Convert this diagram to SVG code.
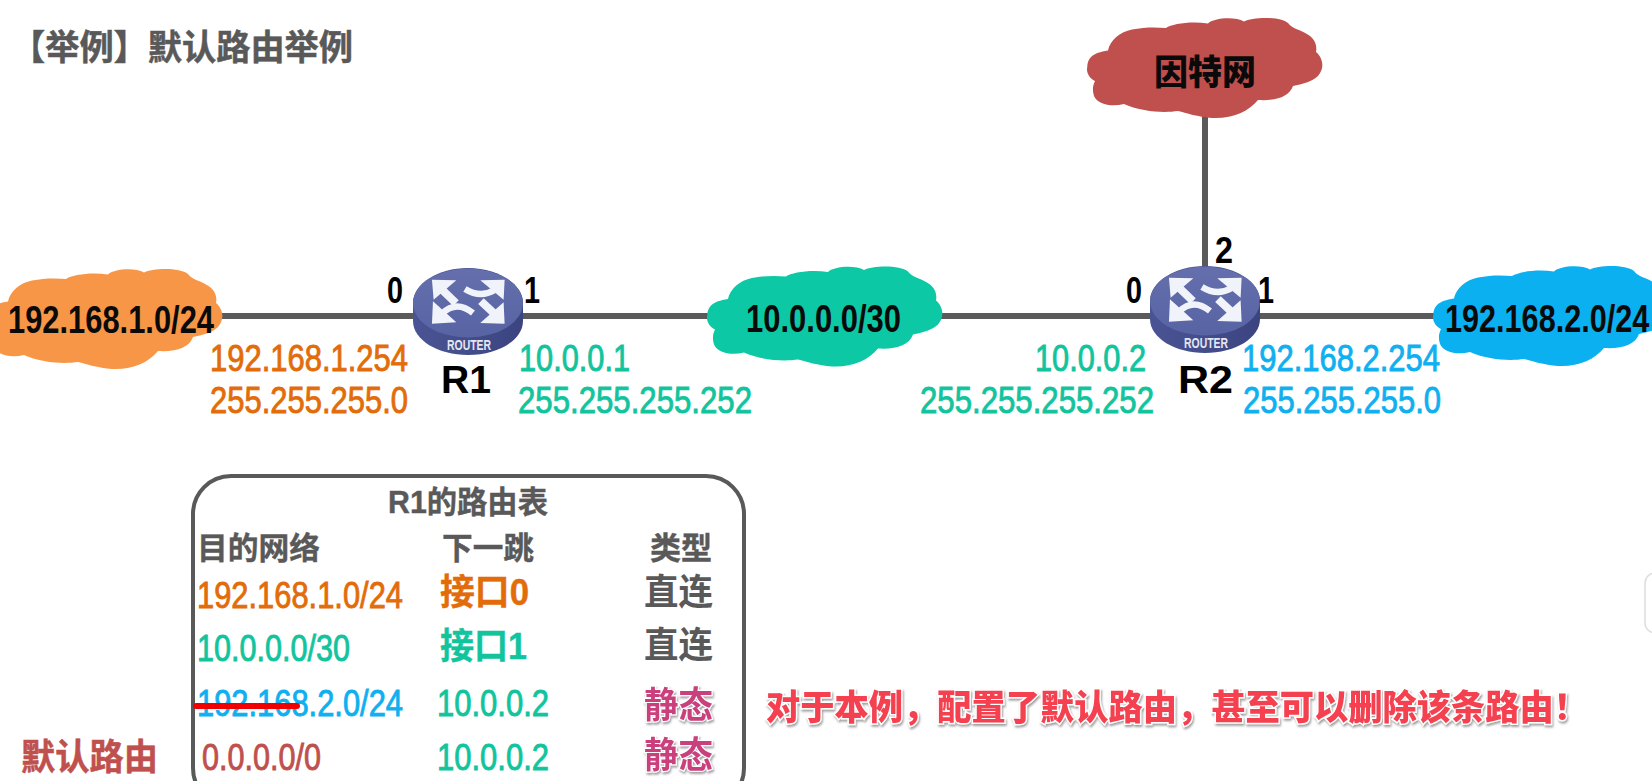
<svg xmlns="http://www.w3.org/2000/svg" xmlns:xlink="http://www.w3.org/1999/xlink" width="1652" height="781" viewBox="0 0 1652 781">
<style>
text{font-family:"Liberation Sans","Noto Sans CJK SC",sans-serif}
.net{font-size:38px;font-weight:700;fill:#0a0a0a}
.port{font-size:36px;font-weight:700;fill:#000}
.rname{font-size:39px;font-weight:700;fill:#000}
.addr{font-size:37px;stroke-width:.9px}
.org{fill:#E36C0A;stroke:#E36C0A}
.tea{fill:#12C49D;stroke:#12C49D}
.blu{fill:#0FB0F0;stroke:#0FB0F0}
.mar{fill:#C0504D;stroke:#C0504D}
.head{font-size:31px;font-weight:700;fill:#595959;stroke:#595959;stroke-width:.4px}
.iface{font-size:36px;font-weight:700;stroke-width:.4px}
.type{font-size:36px;font-weight:700;fill:#595959}
.stat{font-size:36px;font-weight:700;fill:#C93F7C;stroke:#fff;stroke-width:2.5px;paint-order:stroke;filter:url(#sh)}
.note{font-size:35px;font-weight:900;fill:#F4404F;stroke:#fff;stroke-width:3px;paint-order:stroke;filter:url(#sh)}
.link{stroke:#5A5A5A;stroke-width:6;fill:none}
.rt{font-size:14px;font-weight:700;fill:#E4E6F2}
</style>
<defs>
<filter id="sh" x="-5%" y="-20%" width="110%" height="150%"><feDropShadow dx="1" dy="2" stdDeviation="1.2" flood-color="#777" flood-opacity=".7"/></filter>
<linearGradient id="rtop" x1="0" y1="0" x2="0" y2="1"><stop offset="0" stop-color="#656FAD"/><stop offset="1" stop-color="#5763A3"/></linearGradient>
<linearGradient id="rside" x1="0" y1="0" x2="1" y2="0"><stop offset="0" stop-color="#4A5494"/><stop offset=".5" stop-color="#434D8B"/><stop offset="1" stop-color="#3B447F"/></linearGradient>
<path id="cloud" d="M7.300 56.700C8 48 12 43 28 40.500C30 30 40 22 52 19.500C64 17 76 17 86 18C92 14 110 11 128 13.500C133 8 155 6 164 11.500C172 7 200 6 208 13C212 19 222 20 230 26C236 31 237 37 236 42C243 48 245 58 238 66C232 72 222 74 213 76C209 87 196 91 178 90C168 102 152 109 132 108C118 107 106 103 98 101C84 103 62 102 44 94C32 97 18 95 14 86C12 80 13 75 15 71C9 68 6 62 7.300 56.700Z"/>
<g id="router">
<path d="M0 35C0 16 25 0 55 0S110 16 110 35V53C110 72 85 87 55 87S0 72 0 53Z" fill="url(#rside)"/>
<ellipse cx="55" cy="35" rx="55" ry="34.500" fill="url(#rtop)"/>
<g transform="translate(-22.700 -18.300) scale(.3333)">
<g fill="#F1F3FA">
<polygon points="125,90 198,92 130,150"/>
<polygon points="343,90 270,92 340,150"/>
<polygon points="125,222 128,155 198,218"/>
<polygon points="343,222 270,220 340,158"/>
</g>
<g fill="none" stroke="#F1F3FA">
<path d="M155 120L197 160" stroke-width="24"/>
<path d="M312 122Q270 146 224 118" stroke-width="19"/>
<path d="M155 192Q198 150 248 190" stroke-width="19"/>
<path d="M312 192L272 154" stroke-width="24"/>
</g>
</g>
</g>
</defs>
<rect width="1652" height="781" fill="#fff"/>
<text id="title" x="11" y="60" font-size="35" font-weight="700" fill="#595959" stroke="#595959" stroke-width=".5" textLength="342" lengthAdjust="spacingAndGlyphs">【举例】默认路由举例</text>

<g id="connectors">
<line class="link" x1="215" y1="316" x2="415" y2="316"/>
<line class="link" x1="520" y1="316" x2="712" y2="316"/>
<line class="link" x1="940" y1="316" x2="1152" y2="316"/>
<line class="link" x1="1256" y1="316" x2="1436" y2="316"/>
<line class="link" x1="1205" y1="116" x2="1205" y2="270"/>
</g>

<g id="net-lan1">
<use xlink:href="#cloud" href="#cloud" transform="translate(-20 261)" fill="#F79646"/>
<text class="net" x="8" y="333" textLength="206" lengthAdjust="spacingAndGlyphs">192.168.1.0/24</text>
</g>
<g id="net-transit">
<use xlink:href="#cloud" href="#cloud" transform="translate(700 258.500)" fill="#0CC8A4"/>
<text class="net" x="746" y="332" textLength="155" lengthAdjust="spacingAndGlyphs">10.0.0.0/30</text>
</g>
<g id="net-lan2">
<use xlink:href="#cloud" href="#cloud" transform="translate(1426 258)" fill="#0BB0F0"/>
<text class="net" transform="matrix(.806 0 0 1 1445 332)">192.168.2.0/24</text>
</g>
<g id="net-internet">
<use xlink:href="#cloud" href="#cloud" transform="translate(1080 10)" fill="#C0504D"/>
<text x="1154" y="85" font-size="35" font-weight="900" fill="#0a0a0a" textLength="102" lengthAdjust="spacingAndGlyphs">因特网</text>
</g>

<g id="R1">
<use xlink:href="#router" href="#router" transform="translate(413 268)"/>
<text class="rt" x="447" y="350" textLength="44" lengthAdjust="spacingAndGlyphs">ROUTER</text>
<text class="port" x="387" y="303" textLength="16" lengthAdjust="spacingAndGlyphs">0</text>
<text class="port" x="524" y="303" textLength="16" lengthAdjust="spacingAndGlyphs">1</text>
<text class="rname" x="441" y="393" textLength="50" lengthAdjust="spacingAndGlyphs">R1</text>
<text class="addr org" x="210" y="371" textLength="198" lengthAdjust="spacingAndGlyphs">192.168.1.254</text>
<text class="addr org" x="210" y="413" textLength="198" lengthAdjust="spacingAndGlyphs">255.255.255.0</text>
<text class="addr tea" x="519" y="371" textLength="111" lengthAdjust="spacingAndGlyphs">10.0.0.1</text>
<text class="addr tea" x="518" y="413" textLength="234" lengthAdjust="spacingAndGlyphs">255.255.255.252</text>
</g>

<g id="R2">
<use xlink:href="#router" href="#router" transform="translate(1150 266)"/>
<text class="rt" x="1184" y="348" textLength="44" lengthAdjust="spacingAndGlyphs">ROUTER</text>
<text class="port" x="1126" y="303" textLength="16" lengthAdjust="spacingAndGlyphs">0</text>
<text class="port" x="1258" y="303" textLength="16" lengthAdjust="spacingAndGlyphs">1</text>
<text class="port" x="1215" y="263" textLength="18" lengthAdjust="spacingAndGlyphs">2</text>
<text class="rname" x="1178" y="393" textLength="55" lengthAdjust="spacingAndGlyphs">R2</text>
<text class="addr tea" x="1035" y="371" textLength="111" lengthAdjust="spacingAndGlyphs">10.0.0.2</text>
<text class="addr tea" transform="matrix(.843 0 0 1 920 413)">255.255.255.252</text>
<text class="addr blu" x="1242" y="371" textLength="198" lengthAdjust="spacingAndGlyphs">192.168.2.254</text>
<text class="addr blu" x="1243" y="413" textLength="198" lengthAdjust="spacingAndGlyphs">255.255.255.0</text>
</g>

<g id="routing-table">
<rect x="193" y="476" width="551" height="330" rx="38" fill="none" stroke="#595959" stroke-width="4"/>
<text class="head" x="388" y="513" textLength="160" lengthAdjust="spacingAndGlyphs">R1的路由表</text>
<text class="head" x="197" y="559" textLength="123" lengthAdjust="spacingAndGlyphs">目的网络</text>
<text class="head" x="442" y="559" textLength="92" lengthAdjust="spacingAndGlyphs">下一跳</text>
<text class="head" x="650" y="559" textLength="62" lengthAdjust="spacingAndGlyphs">类型</text>

<text class="addr org" x="197" y="608" textLength="206" lengthAdjust="spacingAndGlyphs">192.168.1.0/24</text>
<text class="iface org" x="440" y="605" textLength="89" lengthAdjust="spacingAndGlyphs">接口0</text>
<text class="type" x="644" y="605" textLength="69" lengthAdjust="spacingAndGlyphs">直连</text>

<text class="addr tea" x="197" y="661" textLength="153" lengthAdjust="spacingAndGlyphs">10.0.0.0/30</text>
<text class="iface tea" x="440" y="659" textLength="87" lengthAdjust="spacingAndGlyphs">接口1</text>
<text class="type" x="644" y="658" textLength="69" lengthAdjust="spacingAndGlyphs">直连</text>

<text class="addr blu" x="197" y="716" textLength="206" lengthAdjust="spacingAndGlyphs">192.168.2.0/24</text>
<text class="addr tea" x="437" y="716" textLength="112" lengthAdjust="spacingAndGlyphs">10.0.0.2</text>
<text class="stat" x="644" y="718" textLength="69" lengthAdjust="spacingAndGlyphs">静态</text>
<line x1="196" y1="706" x2="297" y2="706" stroke="#F00000" stroke-width="6" stroke-linecap="round"/>

<text class="addr mar" x="202" y="770" textLength="119" lengthAdjust="spacingAndGlyphs">0.0.0.0/0</text>
<text class="addr tea" x="437" y="770" textLength="112" lengthAdjust="spacingAndGlyphs">10.0.0.2</text>
<text class="stat" x="644" y="768" textLength="69" lengthAdjust="spacingAndGlyphs">静态</text>
</g>

<text id="default-route" x="21" y="770" font-size="36" font-weight="700" fill="#C0504D" stroke="#C0504D" stroke-width=".5" textLength="137" lengthAdjust="spacingAndGlyphs">默认路由</text>
<text id="note" class="note" x="766" y="720" textLength="822" lengthAdjust="spacingAndGlyphs">对于本例，配置了默认路由，甚至可以删除该条路由！</text>
<rect id="side-tab" x="1645" y="573" width="24" height="60" rx="10" fill="#fff" stroke="#DDD" stroke-width="1.500"/>
</svg>
